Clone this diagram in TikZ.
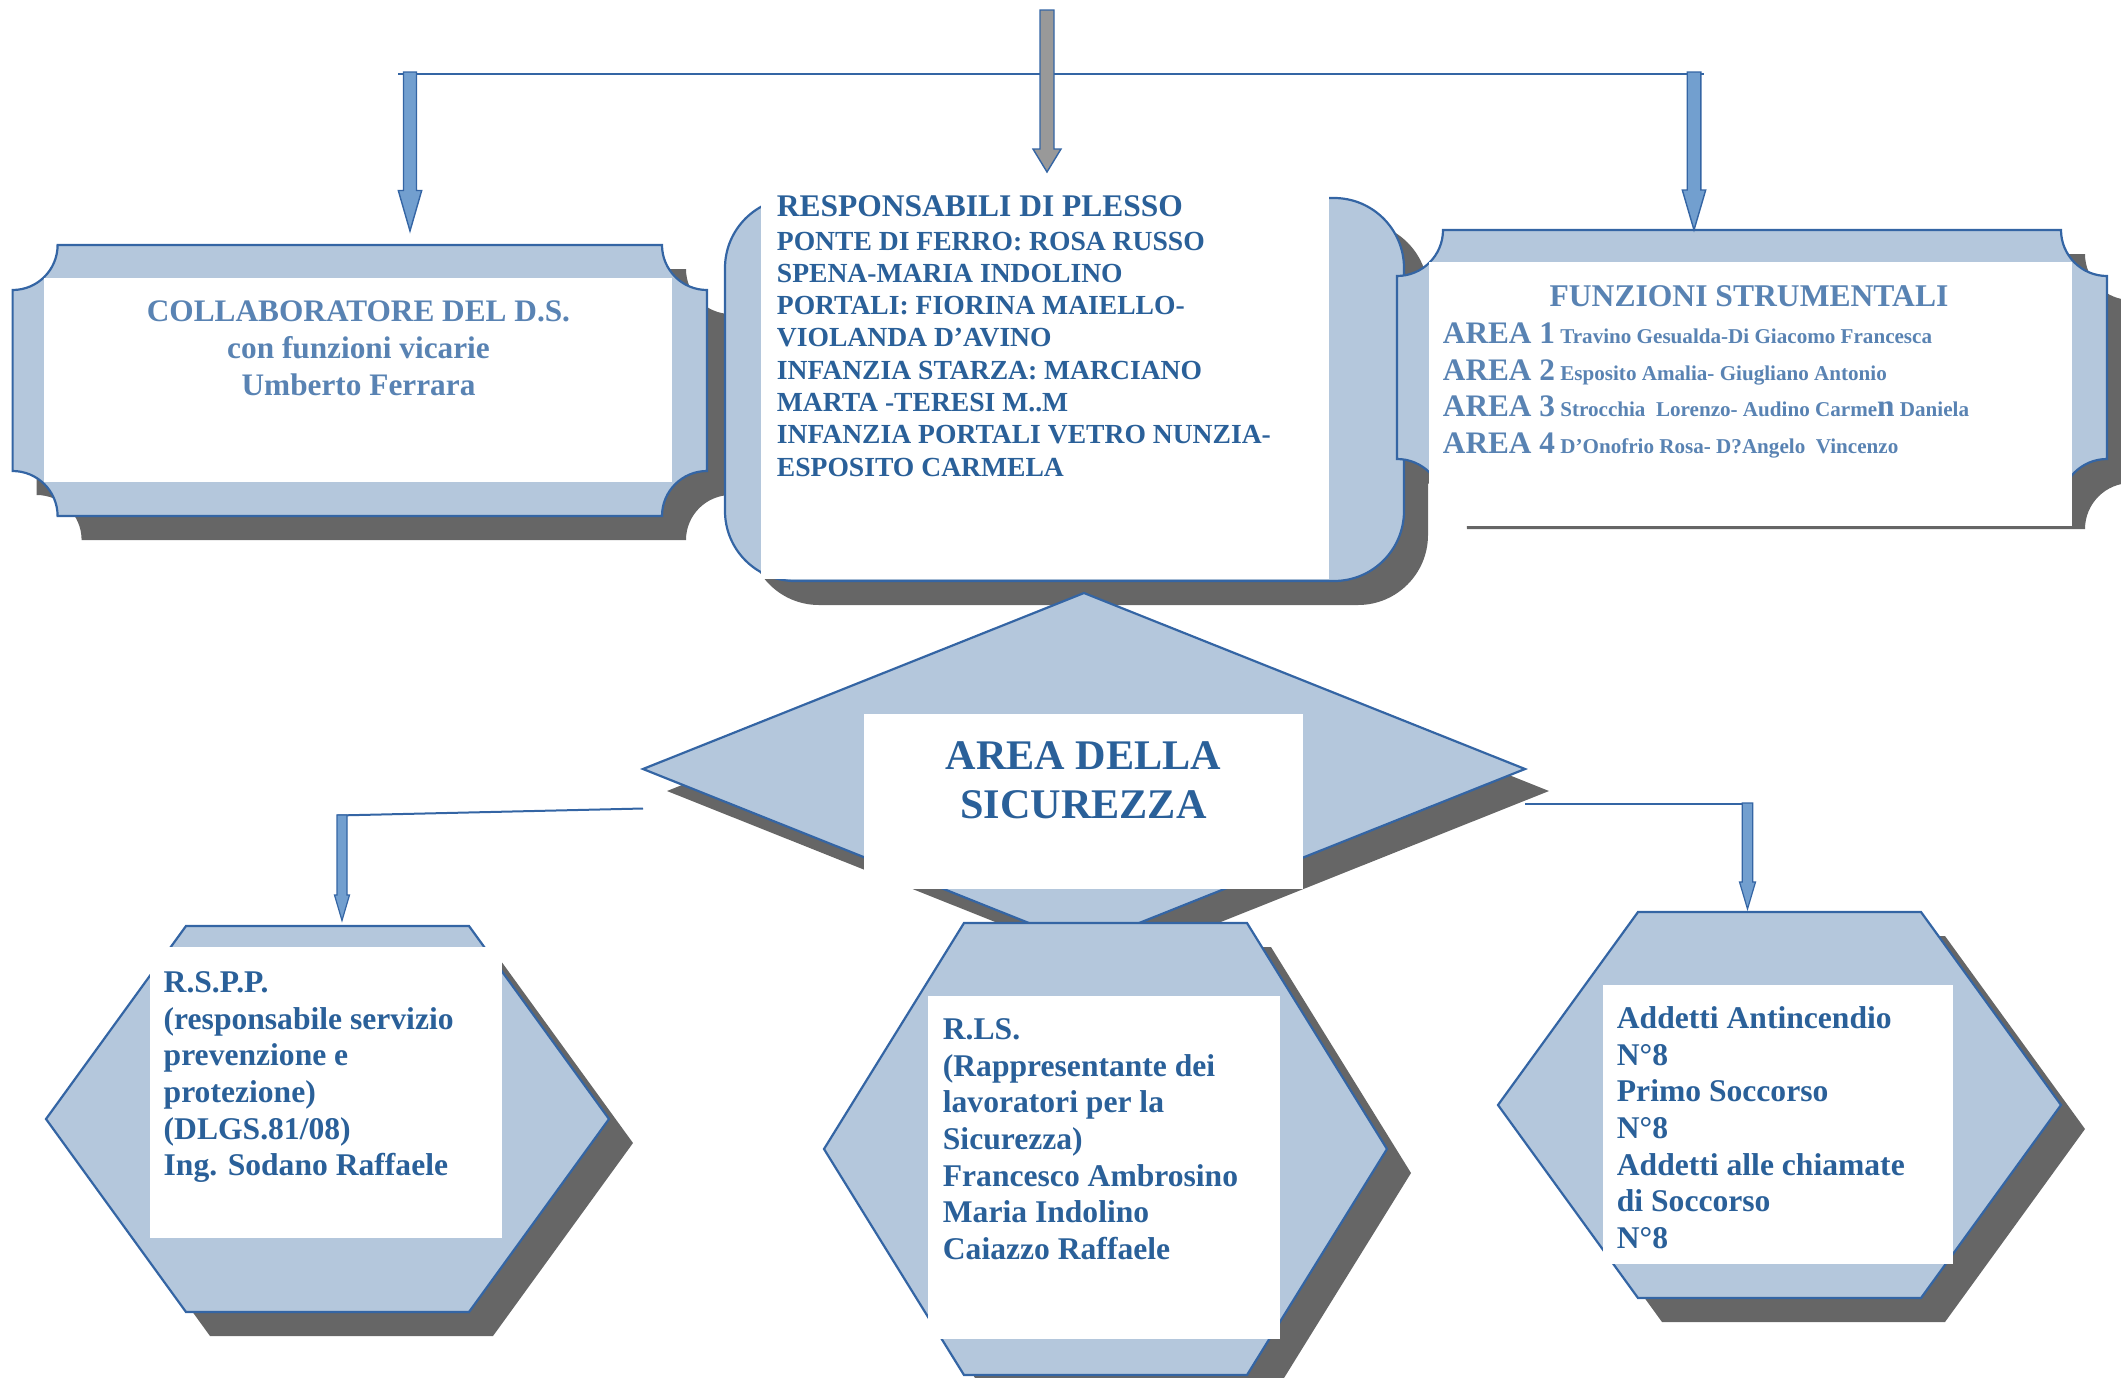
\documentclass[tikz,border=0pt]{standalone}
\usepackage{fontspec}
\setmainfont{Liberation Serif}
\usetikzlibrary{calc}

\definecolor{edgeblue}{HTML}{3465A4}
\definecolor{panelfill}{HTML}{B4C7DC}
\definecolor{arrowfill}{HTML}{729FCF}
\definecolor{arrowgray}{HTML}{999999}
\definecolor{shadowgray}{HTML}{666666}
\definecolor{textblue}{HTML}{2A6099}
\definecolor{paleblue}{HTML}{5983B3}

% plaque with concave corners: style, x0, y0, x1, y1, r
\newcommand{\plaque}[6]{%
  \path[#1] ({#2+#6},#3) -- ({#4-#6},#3) arc[start angle=180,end angle=90,radius=#6]
    -- (#4,{#5-#6}) arc[start angle=270,end angle=180,radius=#6]
    -- ({#2+#6},#5) arc[start angle=0,end angle=-90,radius=#6]
    -- (#2,{#3+#6}) arc[start angle=90,end angle=0,radius=#6] -- cycle;}

% hexagon: style, cx, cy, half height
\newcommand{\hexplate}[4]{%
  \path[#1] ({#2-141.5},{#3-#4}) -- ({#2+141.5},{#3-#4}) -- ({#2+281.5},#3)
    -- ({#2+141.5},{#3+#4}) -- ({#2-141.5},{#3+#4}) -- ({#2-281.5},#3) -- cycle;}

% block arrow pointing down: style, tail, tip, shaft half, head half, head length
\newcommand{\blockarrow}[6]{%
  \path[#1] let \p1=(#2), \p2=(#3) in
    (\x1-#4pt,\y1) -- (\x1-#4pt,\y2+#6pt) -- (\x1-#5pt,\y2+#6pt) -- (\x1,\y2)
    -- (\x1+#5pt,\y2+#6pt) -- (\x1+#4pt,\y2+#6pt) -- (\x1+#4pt,\y1) -- cycle;}

\newcommand{\areatag}[1]{{\fontsize{31.3}{36.7}\selectfont AREA #1}}

\begin{document}
\begin{tikzpicture}[%
x=1pt, y=-1pt,
panel/.style={fill=panelfill, draw=edgeblue, line width=2.2pt},
dropshadow/.style={fill=shadowgray, shift={(24,24)}},
card/.style={fill=white, inner sep=0pt, anchor=north west},
txt/.style={text=textblue, font=\bfseries\fontsize{31.6}{36.7}\selectfont,
  inner sep=0pt, align=left, anchor=base west},
paletxt/.style={txt, text=paleblue},
link/.style={draw=edgeblue, line width=2pt},
arrowblock/.style={fill=arrowfill, draw=edgeblue, line width=1.4pt},
grayblock/.style={arrowblock, fill=arrowgray}
]
\useasboundingbox (0,0) rectangle (2121,1377);

% top row (text nodes sit on the baseline of their last line)
\plaque{dropshadow}{12.6}{245}{707}{516}{45}
\plaque{panel}{12.6}{245}{707}{516}{45}
\node[card, minimum width=628pt, minimum height=204pt] (collab-card) at (44,278) {};
\node[paletxt, align=center, anchor=base, font=\bfseries\fontsize{31.3}{36.7}\selectfont]
  (collab-text) at (358.5,395.1) {COLLABORATORE DEL D.S.\\con funzioni vicarie\\Umberto Ferrara};

\path[dropshadow, rounded corners=70pt] (725,198) rectangle (1404,581);
\path[panel, rounded corners=70pt] (725,198) rectangle (1404,581);
\node[card, minimum width=568pt, minimum height=385pt] (plesso-card) at (761,194) {};
\node[txt, font=\bfseries\fontsize{27.6}{32.3}\selectfont] (plesso-text) at (776.7,476.1)
  {{\fontsize{31.5}{32.3}\selectfont RESPONSABILI DI PLESSO}\\[1pt]
   PONTE DI FERRO: ROSA RUSSO\\
   SPENA-MARIA INDOLINO\\
   PORTALI: FIORINA MAIELLO-\\
   VIOLANDA D’AVINO\\
   INFANZIA STARZA: MARCIANO\\
   MARTA -TERESI M..M\\
   INFANZIA PORTALI VETRO NUNZIA-\\
   ESPOSITO CARMELA};

\plaque{dropshadow}{1397}{230}{2107}{505}{46}
\plaque{panel}{1397}{230}{2107}{505}{46}
\node[card, minimum width=643pt, minimum height=264pt] (funz-card) at (1429,262) {};
\node[paletxt, anchor=base] (funz-title) at (1749,306.7) {FUNZIONI STRUMENTALI};
\node[paletxt, font=\bfseries\fontsize{21.1}{36.7}\selectfont] (funz-text) at (1442.7,453.4)
  {\areatag{1} Travino Gesualda-Di Giacomo Francesca\\
   \areatag{2} Esposito Amalia- Giugliano Antonio\\
   \areatag{3} Strocchia\ \ Lorenzo- Audino Carme{\fontsize{31.3}{36.7}\selectfont n} Daniela\\
   \areatag{4} D’Onofrio Rosa- D?Angelo\ \ Vincenzo};

% connectors from the top
\coordinate (bus-w) at (398,74);
\coordinate (bus-e) at (1704,74);
\coordinate (collab-tail) at (410,72);
\coordinate (collab-tip) at (410,231);
\coordinate (plesso-tail) at (1047,10);
\coordinate (plesso-tip) at (1047,172);
\coordinate (funz-tail) at (1694,72);
\coordinate (funz-tip) at (1694,230);
\draw[link, line width=2.7pt] (bus-w) -- (bus-e);
\blockarrow{arrowblock}{collab-tail}{collab-tip}{6.5}{11.7}{40.5}
\blockarrow{arrowblock}{funz-tail}{funz-tip}{6.8}{11.7}{40}
\blockarrow{grayblock}{plesso-tail}{plesso-tip}{7}{14}{23}

% safety area
\path[dropshadow, shift={(0,-2)}] (1084,593) -- (1525,769) -- (1084,945) -- (643,769) -- cycle;
\path[panel] (1084,593) -- (1525,769) -- (1084,945) -- (643,769) -- cycle;
\node[card, minimum width=439pt, minimum height=175pt] (sic-card) at (864,714) {};
\node[txt, align=center, anchor=base, font=\bfseries\fontsize{42.2}{49.3}\selectfont]
  (sic-text) at (1083.5,818.3) {AREA DELLA\\SICUREZZA};

% hexagons
\hexplate{dropshadow}{327.5}{1119}{193}
\hexplate{panel}{327.5}{1119}{193}
\node[card, minimum width=352pt, minimum height=291pt] (rspp-card) at (150,947) {};
\node[txt] (rspp-text) at (163.5,1175.8)
  {R.S.P.P.\\(responsabile servizio\\prevenzione e\\protezione)\\(DLGS.81/08)\\Ing. Sodano Raffaele};

\hexplate{dropshadow}{1105.5}{1149}{226}
\hexplate{panel}{1105.5}{1149}{226}
\node[card, minimum width=352pt, minimum height=343.5pt] (rls-card) at (928,995.5) {};
\node[txt] (rls-text) at (942.7,1259.5)
  {R.LS.\\(Rappresentante dei\\lavoratori per la\\Sicurezza)\\Francesco Ambrosino\\Maria Indolino\\Caiazzo Raffaele};

\hexplate{dropshadow}{1779.5}{1105}{193}
\hexplate{panel}{1779.5}{1105}{193}
\node[card, minimum width=350pt, minimum height=279pt] (addetti-card) at (1603,985) {};
\node[txt] (addetti-text) at (1616.7,1248.5)
  {Addetti Antincendio\\N°8\\Primo Soccorso\\N°8\\Addetti alle chiamate\\di Soccorso\\N°8};

% connectors from the safety area
\coordinate (sic-w) at (643,808.5);
\coordinate (rspp-bend) at (337,815.5);
\coordinate (rspp-tail) at (342,815);
\coordinate (rspp-tip) at (342,920.5);
\coordinate (sic-e) at (1525,803.6);
\coordinate (addetti-bend) at (1753,803.6);
\coordinate (addetti-tail) at (1747.5,803);
\coordinate (addetti-tip) at (1747.5,909);
\draw[link] (sic-w) -- (rspp-bend);
\draw[link] (sic-e) -- (addetti-bend);
\blockarrow{arrowblock, line width=1.2pt}{rspp-tail}{rspp-tip}{5}{7.5}{25.5}
\blockarrow{arrowblock, line width=1.2pt}{addetti-tail}{addetti-tip}{5.2}{8}{27}
\end{tikzpicture}
\end{document}
